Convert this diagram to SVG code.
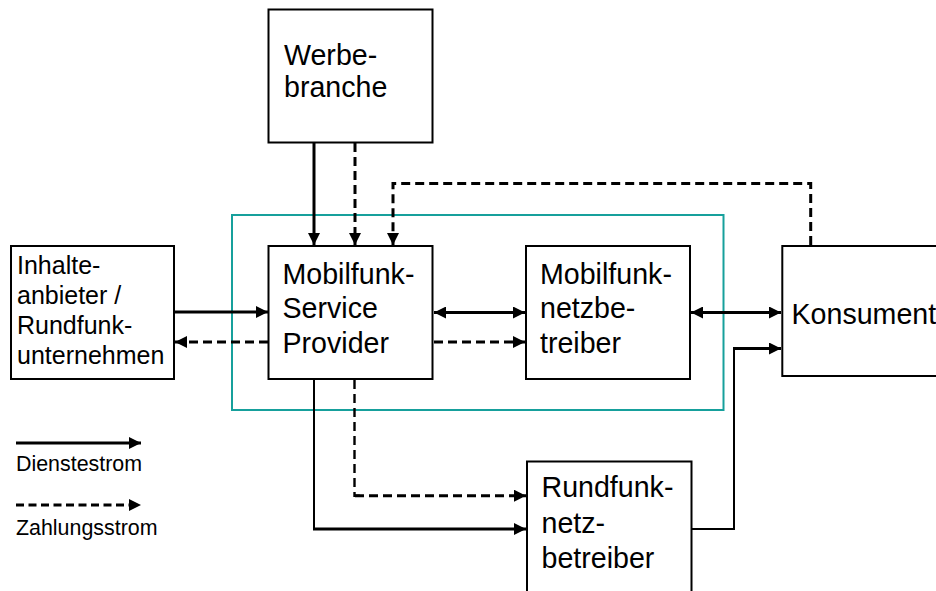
<svg xmlns="http://www.w3.org/2000/svg" width="936" height="591" viewBox="0 0 936 591">
<defs>
<style>
.box{fill:#fff;stroke:#000;stroke-width:2}
.grp{fill:none;stroke:#16a09c;stroke-width:2}
.t{font-family:"Liberation Sans",Arial,sans-serif;fill:#000}
.t28{font-size:28.6px}
.t25{font-size:25px}
.t21{font-size:21.4px}
.s{fill:none;stroke:#000;stroke-width:3}
.thin{fill:none;stroke:#000;stroke-width:2}
.d{fill:none;stroke:#000;stroke-width:3;stroke-dasharray:9 5}
.dthin{fill:none;stroke:#000;stroke-width:2.4;stroke-dasharray:9 5}
</style>
<marker id="ah" markerUnits="userSpaceOnUse" markerWidth="12" markerHeight="12" refX="12" refY="6" orient="auto-start-reverse">
<path d="M0,0 L12,6 L0,12 Z" fill="#000"/>
</marker>
</defs>
<rect width="936" height="591" fill="#fff"/>

<rect id="mobilfunk-gruppe" class="grp" x="232" y="215" width="491.5" height="195"/>

<g id="connectors">
<path class="s" d="M314,143 V245" marker-end="url(#ah)"/>
<path class="d" d="M355,143 V245" marker-end="url(#ah)"/>
<path class="d" d="M810.7,245 V183.5 H393 V245" marker-end="url(#ah)"/>
<path class="s" d="M175,312 H268" marker-end="url(#ah)"/>
<path class="d" d="M268,342 H175" marker-end="url(#ah)"/>
<path class="s" d="M434,312.5 H525" marker-start="url(#ah)" marker-end="url(#ah)"/>
<path class="d" d="M434,342 H525" marker-end="url(#ah)"/>
<path class="s" d="M691,312.5 H781" marker-start="url(#ah)" marker-end="url(#ah)"/>
<g id="msp-rundfunk-dienst">
<path class="thin" d="M314,380 V529"/>
<path class="s" d="M313,529 H526" marker-end="url(#ah)"/>
</g>
<g id="msp-rundfunk-zahlung">
<path class="dthin" d="M354.5,380 V495.7 H360"/>
<path class="d" d="M355,495.7 H526" marker-end="url(#ah)"/>
</g>
<g id="rundfunk-konsument">
<path class="thin" d="M692,529 H734 V348.5"/>
<path class="s" d="M733,348.5 H781" marker-end="url(#ah)"/>
</g>
</g>

<g id="werbebranche">
<rect class="box" x="268.5" y="9.5" width="164" height="133"/>
<text class="t t28" x="284" y="65">Werbe-</text>
<text class="t t28" x="284" y="97">branche</text>
</g>

<g id="inhalteanbieter">
<rect class="box" x="11" y="246" width="163" height="133"/>
<text class="t t25" x="17" y="274">Inhalte-</text>
<text class="t t25" x="17" y="304">anbieter /</text>
<text class="t t25" x="17" y="334">Rundfunk-</text>
<text class="t t25" x="17" y="364">unternehmen</text>
</g>

<g id="service-provider">
<rect class="box" x="268.5" y="246" width="164" height="133"/>
<text class="t t28" x="282.5" y="283.5">Mobilfunk-</text>
<text class="t t28" x="282.5" y="318">Service</text>
<text class="t t28" x="282.5" y="352.5">Provider</text>
</g>

<g id="mobilfunknetzbetreiber">
<rect class="box" x="526" y="246" width="164" height="133"/>
<text class="t t28" x="540" y="283.5">Mobilfunk-</text>
<text class="t t28" x="540" y="318">netzbe-</text>
<text class="t t28" x="540" y="352.5">treiber</text>
</g>

<g id="konsument">
<rect class="box" x="782.3" y="246" width="170" height="130"/>
<text class="t t28" x="791.5" y="323.5">Konsument</text>
</g>

<g id="rundfunknetzbetreiber">
<rect class="box" x="527" y="461.5" width="164.5" height="150"/>
<text class="t t28" x="541.5" y="497">Rundfunk-</text>
<text class="t t28" x="541.5" y="532.5">netz-</text>
<text class="t t28" x="541.5" y="568">betreiber</text>
</g>

<g id="legende">
<path class="s" d="M16,443 H141" marker-end="url(#ah)"/>
<text class="t t21" x="16" y="471">Dienstestrom</text>
<path class="d" d="M16,505 H141" style="stroke-dasharray:8 4.5" marker-end="url(#ah)"/>
<text class="t t21" x="16" y="534.5">Zahlungsstrom</text>
</g>
</svg>
